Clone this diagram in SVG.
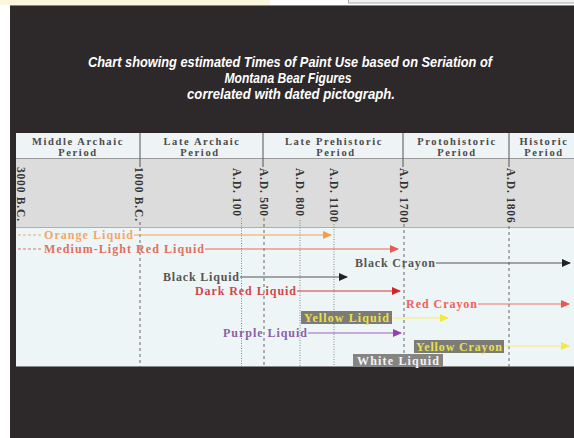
<svg xmlns="http://www.w3.org/2000/svg" width="574" height="438" viewBox="0 0 574 438">
<style>
.title{font-family:"Liberation Sans",Arial,sans-serif;font-weight:bold;font-style:italic;font-size:14px;fill:#ffffff;text-anchor:middle}
.per{font-family:"Liberation Serif","Times New Roman",serif;font-size:10.5px;fill:#4a4a4a;text-anchor:middle;letter-spacing:1.6px;font-weight:bold}
.date{font-family:"Liberation Serif","Times New Roman",serif;font-size:11.5px;fill:#333;letter-spacing:0.8px;font-weight:bold}
.lbl{font-family:"Liberation Serif","Times New Roman",serif;font-size:12px;font-weight:bold}
.sep{stroke:#555;stroke-width:1}
.dash{stroke:#666;stroke-width:1;stroke-dasharray:3 3;fill:none}
.dot{stroke:#888;stroke-width:1;stroke-dasharray:1 1.5;fill:none}
.ln{stroke-width:1.2;fill:none}
</style>
<defs>
<marker id="aO" markerUnits="userSpaceOnUse" markerWidth="9" markerHeight="8" refX="8" refY="4" orient="auto"><path d="M0,0 L9,4 L0,8 z" fill="#f2a04a"/></marker>
<marker id="aR" markerUnits="userSpaceOnUse" markerWidth="9" markerHeight="8" refX="8" refY="4" orient="auto"><path d="M0,0 L9,4 L0,8 z" fill="#e85a50"/></marker>
<marker id="aK" markerUnits="userSpaceOnUse" markerWidth="9" markerHeight="8" refX="8" refY="4" orient="auto"><path d="M0,0 L9,4 L0,8 z" fill="#222"/></marker>
<marker id="aD" markerUnits="userSpaceOnUse" markerWidth="9" markerHeight="8" refX="8" refY="4" orient="auto"><path d="M0,0 L9,4 L0,8 z" fill="#d02828"/></marker>
<marker id="aY" markerUnits="userSpaceOnUse" markerWidth="9" markerHeight="8" refX="8" refY="4" orient="auto"><path d="M0,0 L9,4 L0,8 z" fill="#f2ea40"/></marker>
<marker id="aP" markerUnits="userSpaceOnUse" markerWidth="9" markerHeight="8" refX="8" refY="4" orient="auto"><path d="M0,0 L9,4 L0,8 z" fill="#9440b0"/></marker>
</defs>

<rect x="0" y="0" width="574" height="438" fill="#ffffff"/>
<rect x="0" y="0" width="270" height="5" fill="#fcf6de"/>
<rect x="348.5" y="-1" width="226" height="4" fill="#f2f2f2" stroke="#aaaaaa"/>
<rect x="10" y="5" width="564" height="433" fill="#2d2829"/>
<line x1="10" y1="5.5" x2="574" y2="5.5" stroke="#8a8686"/>

<g id="title">
<text class="title" x="290" y="67" textLength="404" lengthAdjust="spacingAndGlyphs">Chart showing estimated Times of Paint Use based on Seriation of</text>
<text class="title" x="288" y="83" textLength="127" lengthAdjust="spacingAndGlyphs">Montana Bear Figures</text>
<text class="title" x="291" y="99" textLength="208" lengthAdjust="spacingAndGlyphs">correlated with dated pictograph.</text>
</g>

<g id="chart">
<rect x="16" y="133" width="558" height="25" fill="#eef3f6"/>
<rect x="16" y="158" width="558" height="69" fill="#dcdcdc"/>
<rect x="16" y="227" width="558" height="140" fill="#eef5f7"/>
<line x1="16" y1="158.5" x2="574" y2="158.5" stroke="#9a9a9a"/>
<line x1="16" y1="227.5" x2="574" y2="227.5" stroke="#b0b0b0"/>
<line x1="16" y1="366.5" x2="574" y2="366.5" stroke="#888"/>
</g>

<g id="periods">
<line class="sep" x1="140" y1="133" x2="140" y2="167"/>
<line class="sep" x1="263" y1="133" x2="263" y2="167"/>
<line class="sep" x1="403" y1="133" x2="403" y2="167"/>
<line class="sep" x1="509" y1="133" x2="509" y2="167"/>
<text class="per" x="78" y="145">Middle Archaic</text><text class="per" x="78" y="156">Period</text>
<text class="per" x="202" y="145">Late Archaic</text><text class="per" x="200" y="156">Period</text>
<text class="per" x="334" y="145">Late Prehistoric</text><text class="per" x="336" y="156">Period</text>
<text class="per" x="457" y="145">Protohistoric</text><text class="per" x="457" y="156">Period</text>
<text class="per" x="544" y="145">Historic</text><text class="per" x="544" y="156">Period</text>
</g>

<g id="dates">
<text class="date" transform="translate(16.5,167) rotate(90)">3000 B.C.</text>
<text class="date" transform="translate(135,167) rotate(90)">1000 B.C.</text>
<text class="date" transform="translate(233,168) rotate(90)">A.D. 100</text>
<text class="date" transform="translate(260,168) rotate(90)">A.D. 500</text>
<text class="date" transform="translate(296,168) rotate(90)">A.D. 800</text>
<text class="date" transform="translate(330,168) rotate(90)">A.D. 1100</text>
<text class="date" transform="translate(400,168) rotate(90)">A.D. 1700</text>
<text class="date" transform="translate(507,168) rotate(90)">A.D. 1806</text>
</g>

<g id="gridlines">
<line class="dash" x1="140" y1="222" x2="140" y2="367"/>
<line class="dot" x1="241.5" y1="218" x2="241.5" y2="367"/>
<line class="dash" x1="264" y1="218" x2="264" y2="367"/>
<line class="dot" x1="300" y1="220" x2="300" y2="367"/>
<line class="dot" x1="334" y1="224" x2="334" y2="367"/>
<line class="dash" x1="404" y1="224" x2="404" y2="367"/>
<line class="dash" x1="509" y1="226" x2="509" y2="367"/>
</g>

<g id="connectors">
<line x1="18" y1="235" x2="43" y2="235" stroke="#f2a868" stroke-width="1.2" stroke-dasharray="3 2"/>
<line class="ln" x1="134" y1="235" x2="331" y2="235" stroke="#f2a04a" marker-end="url(#aO)"/>
<line x1="18" y1="249" x2="43" y2="249" stroke="#e87060" stroke-width="1.2" stroke-dasharray="3 2"/>
<line class="ln" x1="205" y1="249" x2="398" y2="249" stroke="#e86a5a" marker-end="url(#aR)"/>
<line class="ln" x1="436" y1="263" x2="570" y2="263" stroke="#555" marker-end="url(#aK)"/>
<line class="ln" x1="240" y1="277" x2="347" y2="277" stroke="#555" marker-end="url(#aK)"/>
<line class="ln" x1="297" y1="291" x2="400" y2="291" stroke="#d03838" marker-end="url(#aD)"/>
<line class="ln" x1="478" y1="304" x2="569" y2="304" stroke="#f07068" marker-end="url(#aR)"/>
<line class="ln" x1="393" y1="318" x2="448" y2="318" stroke="#f2ee70" marker-end="url(#aY)"/>
<line class="ln" x1="308" y1="333" x2="401" y2="333" stroke="#a060b8" marker-end="url(#aP)"/>
<line class="ln" x1="505" y1="346" x2="569" y2="346" stroke="#f2ee70" marker-end="url(#aY)"/>
</g>

<g id="orange-liquid"><text class="lbl" x="44" y="239" fill="#f0a868" textLength="89" lengthAdjust="spacing">Orange Liquid</text></g>
<g id="medium-light-red-liquid"><text class="lbl" x="44" y="253" fill="#e0705e" textLength="160" lengthAdjust="spacing">Medium-Light Red Liquid</text></g>
<g id="black-crayon"><text class="lbl" x="355" y="267" fill="#555" textLength="80" lengthAdjust="spacing">Black Crayon</text></g>
<g id="black-liquid"><text class="lbl" x="163" y="281" fill="#555" textLength="76" lengthAdjust="spacing">Black Liquid</text></g>
<g id="dark-red-liquid"><text class="lbl" x="195" y="295" fill="#d04848" textLength="101" lengthAdjust="spacing">Dark Red Liquid</text></g>
<g id="red-crayon"><text class="lbl" x="406" y="308" fill="#f06060" textLength="71" lengthAdjust="spacing">Red Crayon</text></g>
<g id="yellow-liquid"><rect x="301" y="311" width="91" height="13" fill="#7c7b76"/><text class="lbl" x="304" y="322" fill="#e8e050" textLength="85" lengthAdjust="spacing">Yellow Liquid</text></g>
<g id="purple-liquid"><text class="lbl" x="223" y="337" fill="#8a60a8" textLength="84" lengthAdjust="spacing">Purple Liquid</text></g>
<g id="yellow-crayon"><rect x="414" y="340" width="90" height="13" fill="#7c7b76"/><text class="lbl" x="416" y="351" fill="#e8e050" textLength="86" lengthAdjust="spacing">Yellow Crayon</text></g>
<g id="white-liquid"><rect x="353" y="354" width="90" height="12.5" fill="#858483"/><text class="lbl" x="357" y="365" fill="#f2f2f2" textLength="82" lengthAdjust="spacing">White Liquid</text></g>
</svg>
